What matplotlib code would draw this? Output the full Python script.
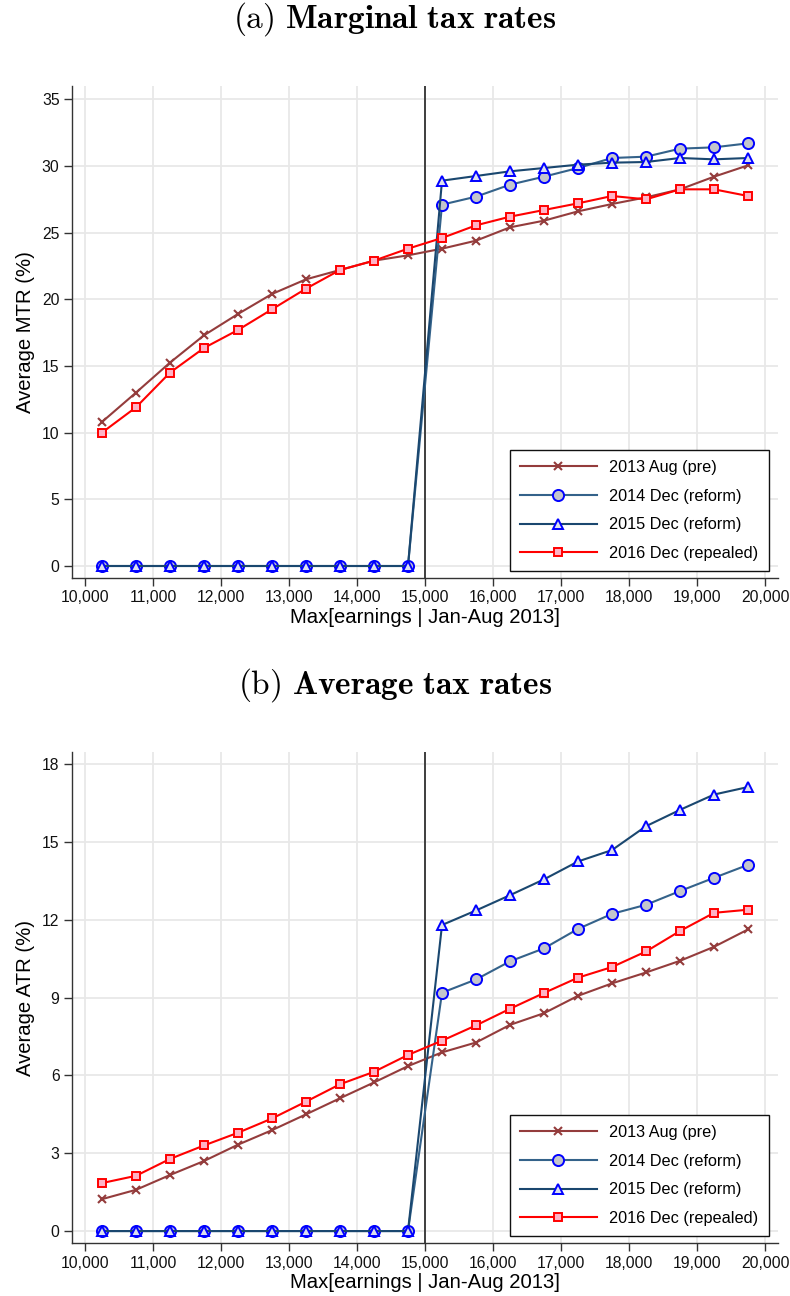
import matplotlib
matplotlib.use("Agg")
import matplotlib.pyplot as plt
from matplotlib.ticker import FuncFormatter

plt.rcParams['font.family'] = ['Liberation Sans', 'DejaVu Sans']
plt.rcParams['mathtext.fontset'] = 'cm'

x = [10250, 10750, 11250, 11750, 12250, 12750, 13250, 13750, 14250, 14750,
     15250, 15750, 16250, 16750, 17250, 17750, 18250, 18750, 19250, 19750]

labels = ["2013 Aug (pre)", "2014 Dec (reform)", "2015 Dec (reform)", "2016 Dec (repealed)"]

mtr_2013 = [10.8, 13.0, 15.25, 17.3, 18.9, 20.4, 21.5, 22.2, 22.9, 23.3,
            23.8, 24.4, 25.4, 25.9, 26.6, 27.15, 27.65, 28.25, 29.2, 30.05]
mtr_2014 = [0, 0, 0, 0, 0, 0, 0, 0, 0, 0,
            27.1, 27.7, 28.6, 29.2, 29.85, 30.6, 30.7, 31.3, 31.4, 31.7]
mtr_2015 = [0, 0, 0, 0, 0, 0, 0, 0, 0, 0,
            28.9, 29.25, 29.6, 29.85, 30.1, 30.25, 30.3, 30.6, 30.5, 30.6]
mtr_2016 = [10.0, 11.9, 14.5, 16.35, 17.7, 19.25, 20.8, 22.2, 22.9, 23.8,
            24.6, 25.55, 26.2, 26.7, 27.2, 27.75, 27.5, 28.25, 28.25, 27.75]

atr_2013 = [1.23, 1.59, 2.16, 2.70, 3.33, 3.89, 4.50, 5.12, 5.73, 6.36,
            6.89, 7.27, 7.95, 8.40, 9.07, 9.55, 9.97, 10.42, 10.96, 11.63]
atr_2014 = [0, 0, 0, 0, 0, 0, 0, 0, 0, 0,
            9.19, 9.70, 10.40, 10.90, 11.65, 12.23, 12.58, 13.11, 13.62, 14.12]
atr_2015 = [0, 0, 0, 0, 0, 0, 0, 0, 0, 0,
            11.8, 12.36, 12.95, 13.56, 14.25, 14.69, 15.61, 16.24, 16.83, 17.12]
atr_2016 = [1.85, 2.13, 2.78, 3.30, 3.79, 4.34, 4.99, 5.66, 6.14, 6.79,
            7.34, 7.93, 8.57, 9.18, 9.77, 10.18, 10.78, 11.57, 12.27, 12.39]

xticks = list(range(10000, 20001, 1000))
mtr_ticks = [0, 5, 10, 15, 20, 25, 30, 35]
atr_ticks = [0, 3, 6, 9, 12, 15, 18]
cutoff = 15000

styles = [
    dict(color='#943c3c', marker='x', markersize=5.5, markeredgewidth=1.5,
         markeredgecolor='#943c3c', lw=1.5),
    dict(color='#34628a', marker='o', markersize=8, markerfacecolor='#c3c5cc',
         markeredgecolor='#0000ff', markeredgewidth=1.4, lw=1.5),
    dict(color='#1a476f', marker='^', markersize=7.2, markerfacecolor='#dde0ee',
         markeredgecolor='#0000ff', markeredgewidth=1.4, lw=1.5),
    dict(color='#ff0000', marker='s', markersize=6.2, markerfacecolor='#ffb3c6',
         markeredgecolor='#ff0000', markeredgewidth=1.4, lw=1.5),
]

W, H = 790, 1296
fig = plt.figure(figsize=(W / 100, H / 100), dpi=100)


def make_axes(top_px, bot_px):
    l, r = 72, 778
    return fig.add_axes([l / W, 1 - bot_px / H, (r - l) / W, (bot_px - top_px) / H])


def draw(ax, series, yticks, ylim, ylabel):
    for s, lab, st in zip(series, labels, styles):
        ax.plot(x, s, label=lab, zorder=3, **st)
    ax.axvline(cutoff, color='#222222', lw=1.2, zorder=2)
    ax.set_xlim(9810, 20190)
    ax.set_ylim(*ylim)
    ax.set_xticks(xticks)
    ax.set_yticks(yticks)
    ax.xaxis.set_major_formatter(FuncFormatter(lambda v, p: f"{int(v):,}"))
    ax.grid(True, color='#e8e8e8', lw=1.3, zorder=0)
    ax.set_axisbelow(True)
    for sp in ['top', 'right']:
        ax.spines[sp].set_visible(False)
    for sp in ['left', 'bottom']:
        ax.spines[sp].set_color('#333333')
        ax.spines[sp].set_linewidth(1.0)
    ax.tick_params(axis='both', labelsize=11.3, length=6, width=1.0,
                   color='#333333', labelcolor='#111111', pad=3)
    ax.set_xlabel("Max[earnings | Jan-Aug 2013]", fontsize=14.6, labelpad=2)
    ax.set_ylabel(ylabel, fontsize=14.6, labelpad=5)
    leg = ax.legend(loc='lower left', bbox_to_anchor=(0.62, 0.014), borderaxespad=0,
                    fontsize=11.7, handlelength=4.74, handletextpad=0.78, labelspacing=0.84,
                    borderpad=0.62, fancybox=False, framealpha=1, edgecolor='#111111')
    leg.get_frame().set_linewidth(1.0)


ax1 = make_axes(86, 578)
draw(ax1, [mtr_2013, mtr_2014, mtr_2015, mtr_2016], mtr_ticks, (-0.9, 36.0), "Average MTR (%)")
ax2 = make_axes(752, 1243)
draw(ax2, [atr_2013, atr_2014, atr_2015, atr_2016], atr_ticks, (-0.46, 18.47), "Average ATR (%)")

fig.text(0.5, 1 - 19 / H, r"$\mathrm{(a)}\ \mathbf{Marginal\ tax\ rates}$",
         ha='center', va='center', fontsize=24)
fig.text(0.5, 1 - 685 / H, r"$\mathrm{(b)}\ \mathbf{Average\ tax\ rates}$",
         ha='center', va='center', fontsize=24)

fig.savefig("out.png", dpi=100)
